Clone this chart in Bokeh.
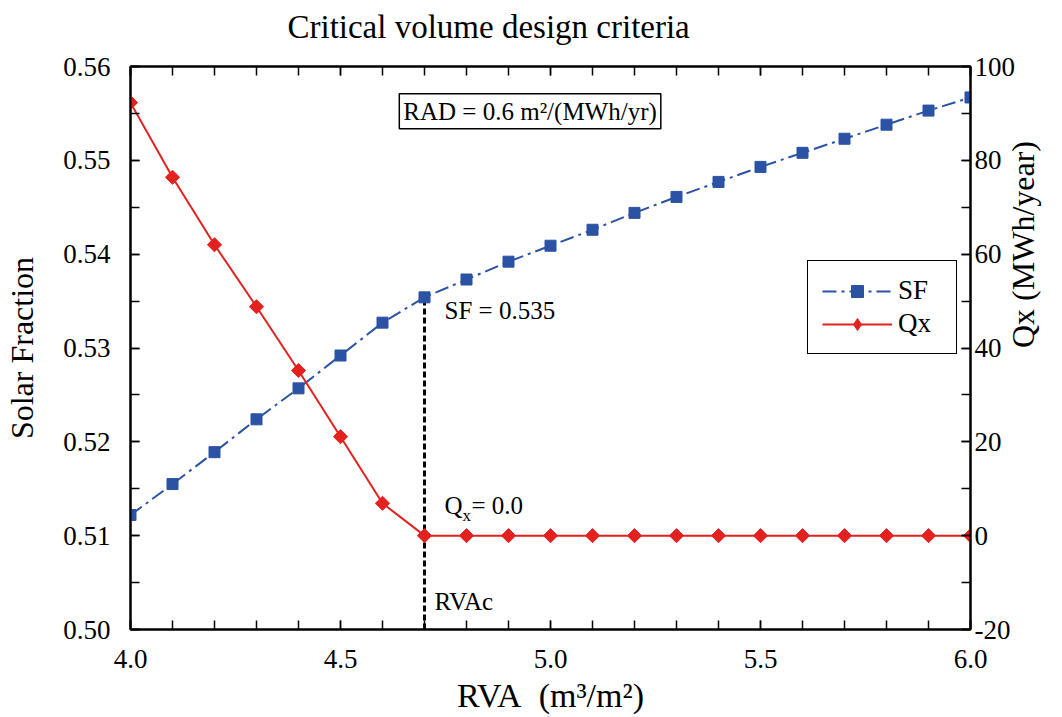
import math
from bokeh.plotting import figure
from bokeh.models import (Range1d, LinearAxis, FixedTicker, PrintfTickFormatter,
                          CustomJSTickFormatter, Legend, LegendItem, Label)
from bokeh.embed import file_html
from bokeh.resources import INLINE

# ---------------- data ----------------
rva = [4.0, 4.1, 4.2, 4.3, 4.4, 4.5, 4.6, 4.7, 4.8, 4.9, 5.0,
       5.1, 5.2, 5.3, 5.4, 5.5, 5.6, 5.7, 5.8, 5.9, 6.0]
sf = [0.5122, 0.5155, 0.5189, 0.5224, 0.5257, 0.5292, 0.5327, 0.5354, 0.5373, 0.5392, 0.5409,
      0.5426, 0.5444, 0.5461, 0.5477, 0.5493, 0.5508, 0.5523, 0.5538, 0.5553, 0.5567]
qx = [92.3, 76.4, 62.0, 48.8, 35.2, 21.1, 6.9, 0.0, 0.0, 0.0, 0.0,
      0.0, 0.0, 0.0, 0.0, 0.0, 0.0, 0.0, 0.0, 0.0, 0.0]

x_ticks = [4.0, 4.5, 5.0, 5.5, 6.0]
sf_ticks = [0.50, 0.51, 0.52, 0.53, 0.54, 0.55, 0.56]
qx_ticks = [-20, 0, 20, 40, 60, 80, 100]

title_text = "Critical volume design criteria"
rva_critical = 4.7
sf_critical_text = "SF = 0.535"
qx_critical_text = "= 0.0"

FONT = "Liberation Serif"
BLUE = "#2b52a3"
RED = "#e3211f"

p = figure(width=1062, height=717, output_backend="svg", toolbar_location=None,
           x_range=Range1d(min(x_ticks), max(x_ticks)),
           y_range=Range1d(min(sf_ticks), max(sf_ticks)),
           min_border_left=130, min_border_right=90, min_border_top=66, min_border_bottom=88,
           x_axis_location=None, y_axis_location=None)
p.extra_y_ranges = {"qx": Range1d(min(qx_ticks), max(qx_ticks))}
p.grid.visible = False
p.outline_line_color = "black"
p.outline_line_width = 2
p.background_fill_color = "white"
p.border_fill_color = "white"


def style_axis(ax):
    ax.axis_line_color = "black"
    ax.axis_line_width = 2
    ax.major_tick_in = 9
    ax.major_tick_out = 0
    ax.minor_tick_in = 9
    ax.minor_tick_out = 0
    ax.major_tick_line_width = 1.5
    ax.minor_tick_line_width = 1.5
    ax.major_tick_line_color = "black"
    ax.minor_tick_line_color = "black"
    ax.major_label_text_font = FONT
    ax.major_label_text_font_size = "27px"
    ax.major_label_text_color = "black"
    ax.axis_label_text_font = FONT
    ax.axis_label_text_font_style = "normal"
    ax.axis_label_text_color = "black"


xb = LinearAxis(ticker=FixedTicker(ticks=x_ticks, minor_ticks=[round(v, 1) for v in rva]),
                formatter=PrintfTickFormatter(format="%.1f"),
                axis_label="RVA\u00a0\u00a0(m³/m²)")
style_axis(xb)
xb.major_label_standoff = 20
xb.axis_label_text_font_size = "34px"
xb.axis_label_standoff = 6
p.add_layout(xb, "below")

# top axis: ticks only; the chart title is carried as its label (shifted left as in the original)
xt = LinearAxis(ticker=FixedTicker(ticks=x_ticks, minor_ticks=[round(v, 1) for v in rva]),
                formatter=CustomJSTickFormatter(code="return ''"),
                axis_label=title_text + "\u00a0" * 15)
style_axis(xt)
xt.major_label_text_font_size = "1px"
xt.major_label_standoff = 0
xt.axis_label_text_font_size = "33px"
xt.axis_label_standoff = 22
p.add_layout(xt, "above")

yl = LinearAxis(ticker=FixedTicker(ticks=sf_ticks,
                                   minor_ticks=[round(0.50 + 0.005 * i, 3) for i in range(13)]),
                formatter=PrintfTickFormatter(format="%.2f"),
                axis_label="Solar Fraction")
style_axis(yl)
yl.major_label_standoff = 20
yl.axis_label_text_font_size = "32px"
yl.axis_label_standoff = 20
p.add_layout(yl, "left")

yr = LinearAxis(y_range_name="qx",
                ticker=FixedTicker(ticks=qx_ticks, minor_ticks=list(range(-20, 101, 10))),
                formatter=PrintfTickFormatter(format="%d"),
                axis_label="Qx (MWh/year)")
style_axis(yr)
yr.major_label_standoff = 4
yr.axis_label_text_font_size = "32px"
yr.axis_label_standoff = 5
yr.axis_label_orientation = math.pi / 2
p.add_layout(yr, "right")

# critical dashed line
p.segment(x0=[rva_critical], y0=[min(sf_ticks)], x1=[rva_critical], y1=[sf[rva.index(rva_critical)]],
          line_color="black", line_width=3, line_dash="6 3")

# SF series
sf_line = p.line(rva, sf, line_color=BLUE, line_width=2, line_dash="14 5 3 5")
sf_mark = p.scatter(rva, sf, marker="square", size=11, fill_color=BLUE, line_color=BLUE)

# Qx series
qx_line = p.line(rva, qx, y_range_name="qx", line_color=RED, line_width=2)
qx_mark = p.scatter(rva, qx, y_range_name="qx", marker="square", angle=math.pi / 4, size=10,
                    fill_color=RED, line_color=RED)
# legend symbol for Qx (diamond shape; its single point is undefined, so nothing is plotted)
qx_key = p.scatter(x=[math.nan], y=[math.nan], y_range_name="qx", marker="diamond", size=16,
                   fill_color=RED, line_color=RED)

legend = Legend(items=[LegendItem(label="SF", renderers=[sf_line, sf_mark]),
                       LegendItem(label="Qx", renderers=[qx_line, qx_key])],
                location=(677, 275), orientation="vertical",
                glyph_width=70, glyph_height=30, label_standoff=6, label_width=44,
                padding=14, spacing=2,
                margin=0, border_line_color="black", border_line_width=1.5, border_line_alpha=1,
                label_text_font=FONT, label_text_font_size="27px", label_text_color="black",
                background_fill_color="white", background_fill_alpha=1)
p.add_layout(legend, "center")

# annotations
p.add_layout(Label(x=4.64, y=0.5571, text="RAD = 0.6 m²/(MWh/yr)", text_font=FONT,
                   text_font_size="25px", text_align="left", text_baseline="top",
                   text_color="black",
                   border_line_color="black", border_line_width=1.5,
                   background_fill_color="white", padding=4))

sf_c = sf[rva.index(rva_critical)]
p.add_layout(Label(x=rva_critical, y=sf_c, x_offset=20, y_offset=-13, text=sf_critical_text,
                   text_font=FONT, text_font_size="25px", text_baseline="middle",
                   text_color="black"))

p.add_layout(Label(x=rva_critical, y=0, y_range_name="qx", x_offset=20, y_offset=30, text="Q",
                   text_font=FONT, text_font_size="25px", text_baseline="middle",
                   text_color="black"))
p.add_layout(Label(x=rva_critical, y=0, y_range_name="qx", x_offset=38, y_offset=20, text="x",
                   text_font=FONT, text_font_size="17px", text_baseline="middle",
                   text_color="black"))
p.add_layout(Label(x=rva_critical, y=0, y_range_name="qx", x_offset=47, y_offset=30,
                   text=qx_critical_text, text_font=FONT, text_font_size="25px",
                   text_baseline="middle", text_color="black"))

p.add_layout(Label(x=rva_critical, y=min(sf_ticks), x_offset=10, y_offset=28, text="RVAc",
                   text_font=FONT, text_font_size="25px", text_baseline="middle",
                   text_color="black"))

open("out.html", "w").write(file_html(p, INLINE))
